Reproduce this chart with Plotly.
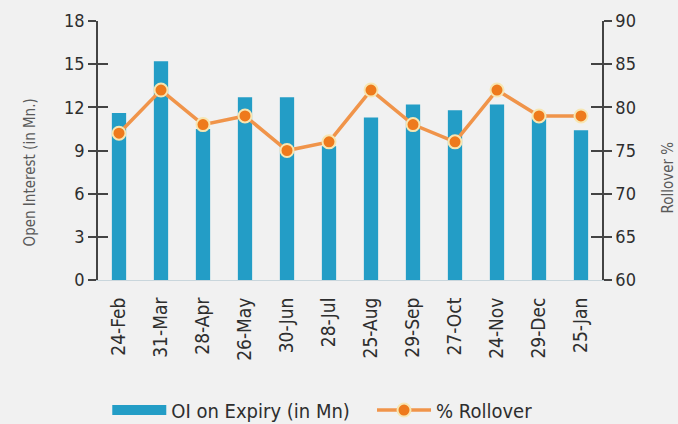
import plotly.graph_objects as go

categories = ["24-Feb", "31-Mar", "28-Apr", "26-May", "30-Jun", "28-Jul",
              "25-Aug", "29-Sep", "27-Oct", "24-Nov", "29-Dec", "25-Jan"]
oi_values = [11.6, 15.2, 10.5, 12.7, 12.7, 9.3, 11.3, 12.2, 11.8, 12.2, 11.3, 10.4]
rollover_values = [77, 82, 78, 79, 75, 76, 82, 78, 76, 82, 79, 79]
left_ticks = [0, 3, 6, 9, 12, 15, 18]
right_ticks = [60, 65, 70, 75, 80, 85, 90]
left_title = "Open Interest (in Mn.)"
right_title = "Rollover %"

FONT = "DejaVu Sans Condensed"
TXT = "#2e2e2e"
AX = "#444444"
BAR = "#239dc6"
TITLE_C = "#5a5a5a"

fig = go.Figure()
fig.add_trace(go.Bar(
    x=categories, y=oi_values, name="OI on Expiry (in Mn)",
    marker=dict(color=BAR, line=dict(width=0)),
    yaxis="y", showlegend=False,
))
# legend proxy for the bar series (wide swatch)
fig.add_trace(go.Scatter(
    x=[None], y=[None], name="OI on Expiry (in Mn)   ", mode="lines",
    line=dict(color=BAR, width=14), yaxis="y", hoverinfo="skip",
))
fig.add_trace(go.Scatter(
    x=categories, y=rollover_values, name="% Rollover",
    mode="lines+markers",
    line=dict(color="#f0944a", width=3.5),
    marker=dict(color="#ee7a1c", size=13, line=dict(color="#f7e6b2", width=2)),
    yaxis="y2",
))

n = len(categories)
fig.update_layout(
    width=678, height=424,
    paper_bgcolor="#f1f1f1", plot_bgcolor="#f1f1f1",
    margin=dict(l=98, r=76, t=21, b=144, autoexpand=False),
    bargap=0.66,
    font=dict(family=FONT, color=TXT, size=16),
    showlegend=True,
    legend=dict(orientation="h", x=0.445, xanchor="center", y=-0.502, yanchor="middle",
                font=dict(family=FONT, size=20, color=TXT), bgcolor="rgba(0,0,0,0)",
                itemwidth=54),
    xaxis=dict(
        type="category", range=[-0.5, n - 0.5], tickangle=-90,
        showgrid=False, zeroline=False,
        showline=True, linecolor="#c9d6dc", linewidth=1,
        ticks="outside", ticklen=9, tickcolor="rgba(0,0,0,0)",
        tickfont=dict(family=FONT, size=19, color=TXT), automargin=False,
    ),
    yaxis=dict(
        range=[0, 18], tickvals=left_ticks, showgrid=False, zeroline=False,
        showline=True, linecolor=AX, linewidth=1.5,
        ticks="outside", ticklen=8, tickwidth=1.5, tickcolor=AX,
        tickfont=dict(family=FONT, size=18, color=TXT), automargin=False,
    ),
    yaxis2=dict(
        range=[60, 90], tickvals=right_ticks, overlaying="y", side="right",
        showgrid=False, zeroline=False,
        showline=True, linecolor=AX, linewidth=1.5,
        ticks="outside", ticklen=8, tickwidth=1.5, tickcolor=AX,
        tickfont=dict(family=FONT, size=18, color=TXT), automargin=False,
    ),
    yaxis3=dict(
        range=[0, 18], tickvals=left_ticks[1:], overlaying="y", side="left",
        showgrid=False, zeroline=False, showline=False, showticklabels=False,
        ticks="inside", ticklen=10, tickwidth=1.5, tickcolor=AX, automargin=False,
    ),
    yaxis4=dict(
        range=[60, 90], tickvals=right_ticks[1:], overlaying="y", side="right",
        showgrid=False, zeroline=False, showline=False, showticklabels=False,
        ticks="inside", ticklen=11, tickwidth=1.5, tickcolor=AX, automargin=False,
    ),
    annotations=[
        dict(text=left_title, xref="paper", yref="paper", x=-0.135, y=0.415,
             textangle=-90, showarrow=False, xanchor="center", yanchor="middle",
             font=dict(family=FONT, size=15, color=TITLE_C)),
        dict(text=right_title, xref="paper", yref="paper", x=1.131, y=0.396,
             textangle=-90, showarrow=False, xanchor="center", yanchor="middle",
             font=dict(family=FONT, size=15, color=TITLE_C)),
    ],
)
fig.add_trace(go.Scatter(x=[categories[0]], y=[0], yaxis="y3", mode="markers",
                         marker=dict(opacity=0), showlegend=False, hoverinfo="skip"))
fig.add_trace(go.Scatter(x=[categories[0]], y=[60], yaxis="y4", mode="markers",
                         marker=dict(opacity=0), showlegend=False, hoverinfo="skip"))

fig.write_html("out.html", config={"displayModeBar": False},
               post_script="document.body.style.margin='0';")
